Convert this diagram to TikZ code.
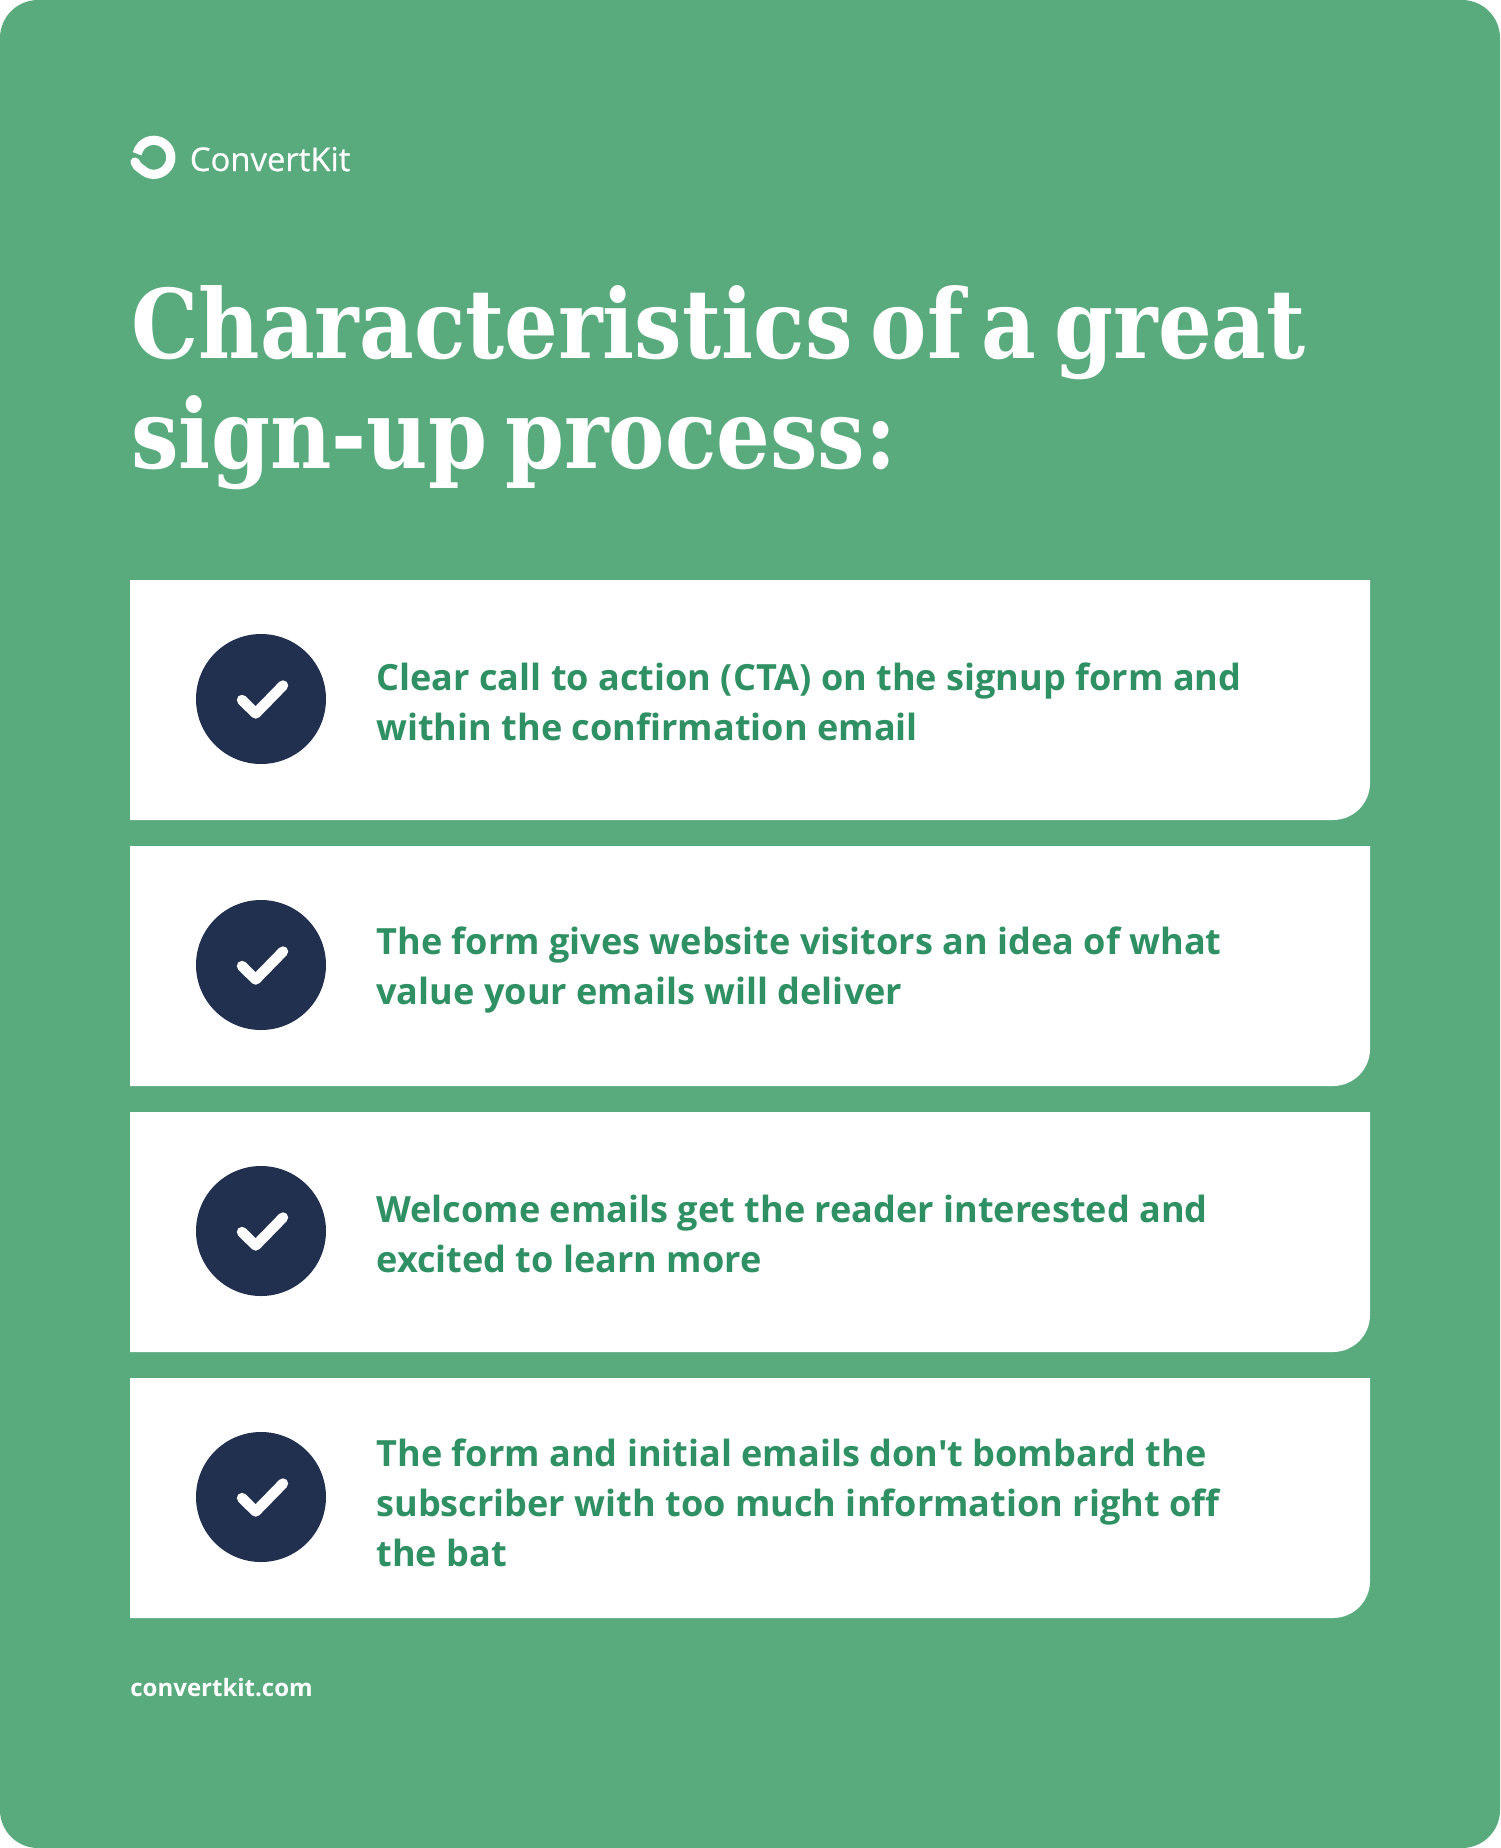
\documentclass[tikz,border=0pt]{standalone}
\usepackage{fontspec}
\setmainfont{Open Sans}
\newfontfamily\itemfont{Open Sans}
\newfontfamily\brandfont[FakeBold=0.5]{Open Sans}
\newfontfamily\titlefont[FakeStretch=0.88,WordSpace=0.62]{DejaVu Serif}
\definecolor{leaf}{HTML}{59AB7E}
\definecolor{ink}{HTML}{2F9064}
\definecolor{navy}{HTML}{22304F}
\tikzset{
  card/.style={fill=white},
  badge/.style={fill=navy},
  tick/.style={draw=white,line width=5.2pt,line cap=round,line join=round},
  item/.style={anchor=north west,inner sep=0pt,align=left,text=ink,font=\itemfont\fontsize{18.05}{25}\selectfont\bfseries},
}
\begin{document}
\begin{tikzpicture}[x=0.5pt,y=-0.5pt]
\useasboundingbox (0,0) rectangle (1500,1848);
\fill[leaf,rounded corners=19pt] (0,0) rectangle (1500,1848);
% logo
\draw[white,line width=4.6pt] (153.8,157.3) ++(135:17) arc[start angle=135,end angle=-168,radius=17];
\draw[white,line width=4.6pt,line cap=round] (141.8,169.3) .. controls (138,167) and (136,165) .. (135,162);
\node[anchor=base west,inner sep=0pt,text=white,font=\brandfont\fontsize{16.4}{20}\selectfont] (brand) at (189.5,171) {ConvertKit};
% title
\node[anchor=north west,inner sep=0pt,align=left,text=white,font=\titlefont\fontsize{48}{55}\selectfont\bfseries] (title) at (131,285) {Characteristics of a great\\sign-up process:};
% cards
\path[card] (130,580) -- (1370,580) -- (1370,783) arc[start angle=0,end angle=90,radius=37] -- (130,820) -- cycle;
\path[card] (130,846) -- (1370,846) -- (1370,1049) arc[start angle=0,end angle=90,radius=37] -- (130,1086) -- cycle;
\path[card] (130,1112) -- (1370,1112) -- (1370,1315) arc[start angle=0,end angle=90,radius=37] -- (130,1352) -- cycle;
\path[card] (130,1378) -- (1370,1378) -- (1370,1581) arc[start angle=0,end angle=90,radius=37] -- (130,1618) -- cycle;
\fill[badge] (261,699) circle (32.5pt);
\fill[badge] (261,965) circle (32.5pt);
\fill[badge] (261,1231) circle (32.5pt);
\fill[badge] (261,1497) circle (32.5pt);
\draw[tick] (242,700)--(255.7,713.5)--(283,685.5);
\draw[tick] (242,966)--(255.7,979.5)--(283,951.5);
\draw[tick] (242,1232)--(255.7,1245.5)--(283,1217.5);
\draw[tick] (242,1498)--(255.7,1511.5)--(283,1483.5);
\node[item] (first) at (376,662.5) {Clear call to action (CTA) on the signup form and\\within the confirmation email};
\node[item] (second) at (376,926) {The form gives website visitors an idea of what\\value your emails will deliver};
\node[item] (third) at (376,1195) {Welcome emails get the reader interested and\\excited to learn more};
\node[item] (fourth) at (376,1438) {The form and initial emails don't bombard the\\subscriber with too much information right off\\the bat};
\node[anchor=base west,inner sep=0pt,text=white,font=\fontsize{12}{15}\selectfont\bfseries] (site) at (130,1696) {convertkit.com};
\end{tikzpicture}
\end{document}
